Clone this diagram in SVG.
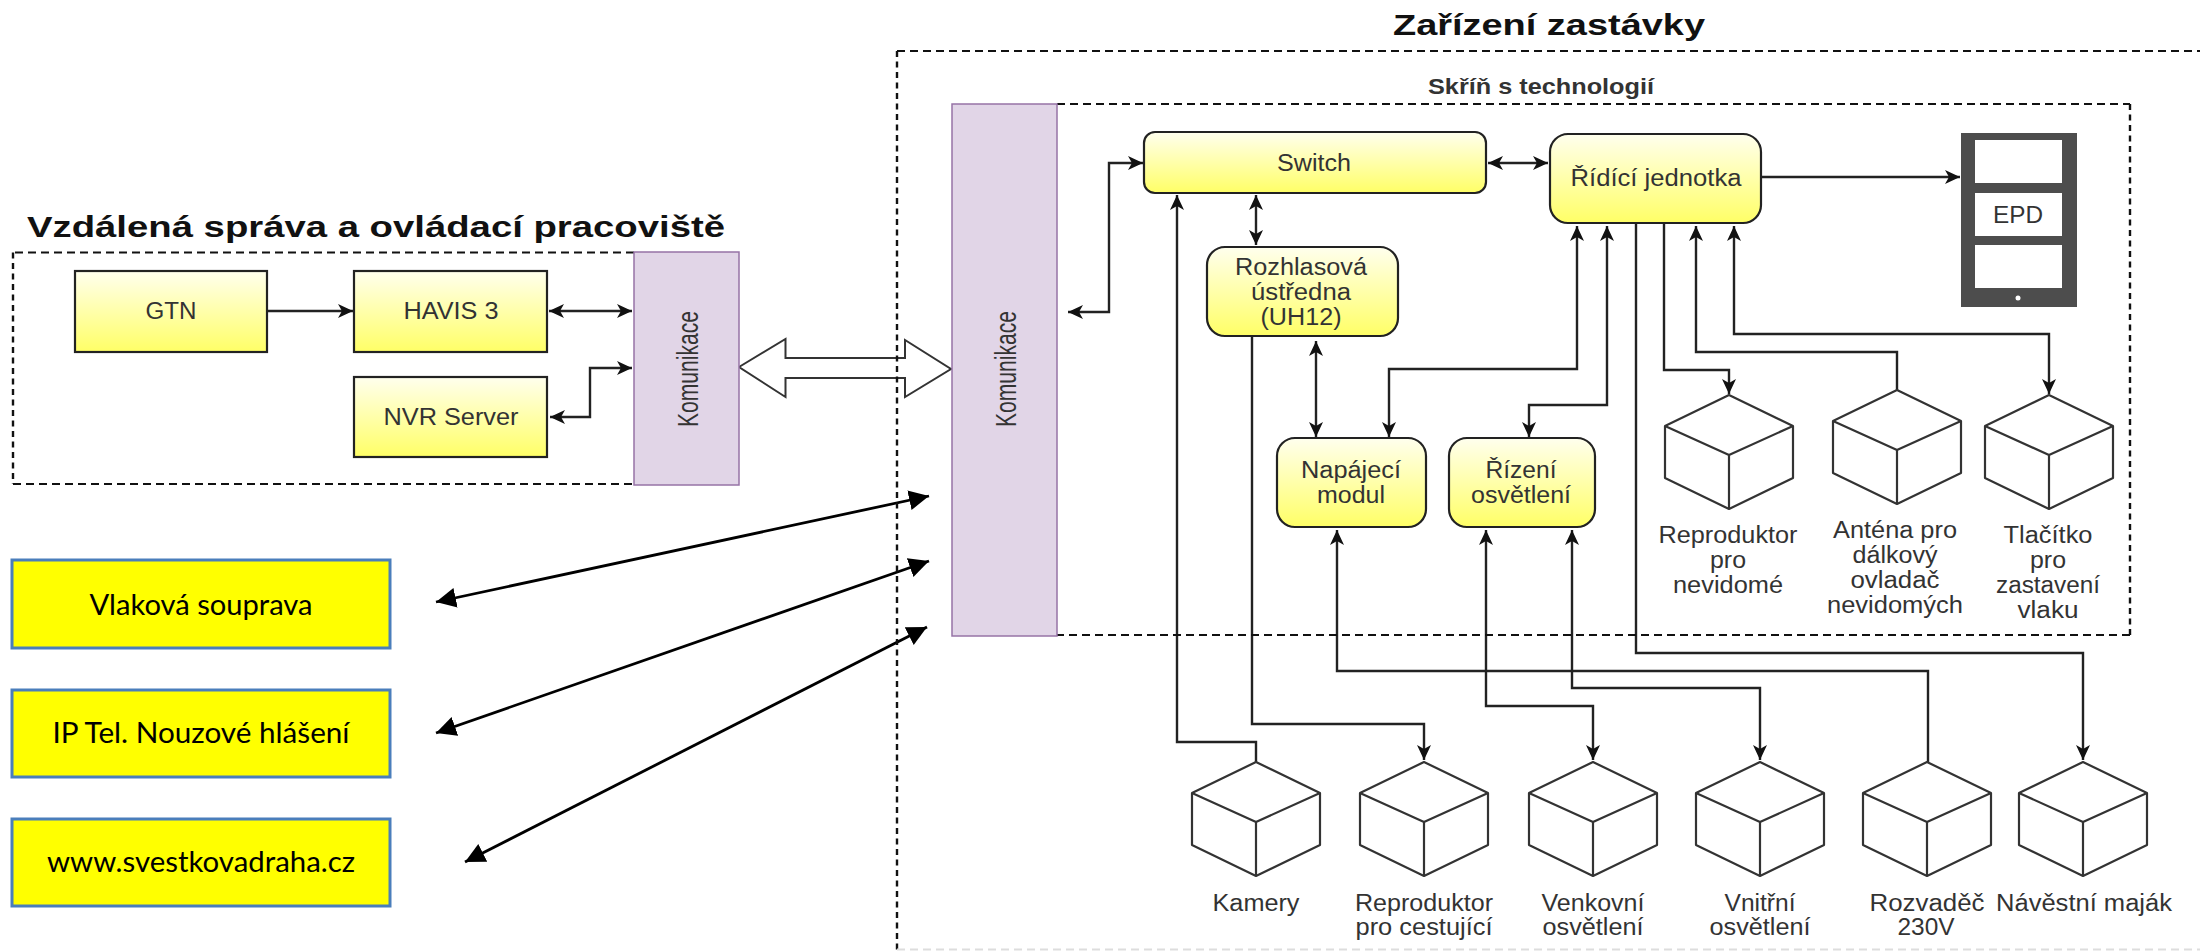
<svg xmlns="http://www.w3.org/2000/svg" xmlns:xlink="http://www.w3.org/1999/xlink" width="2200" height="951" viewBox="0 0 2200 951">
<style>
text{font-family:"Liberation Sans",Arial,sans-serif;fill:#333;font-size:23px;text-anchor:middle}
.title{font-weight:bold;font-size:30px;fill:#111;text-anchor:start}
.sub{font-weight:bold;font-size:22px;fill:#333;text-anchor:start}
.yt{font-family:Lato,"Liberation Sans",sans-serif;font-size:29px;fill:#000}
.rot{font-size:21px}
.frame{fill:none;stroke:#111;stroke-width:2.2;stroke-dasharray:8 5}
.framev{fill:none;stroke:#111;stroke-width:2.4;stroke-dasharray:6 4.500}
.box{fill:url(#yg);stroke:#222;stroke-width:2.2}
.kom{fill:#e1d5e7;stroke:#9673a6;stroke-width:1.5}
.yb{fill:#ffff00;stroke:#4a7ebb;stroke-width:3}
.c{fill:none;stroke:#222;stroke-width:2.4}
.a{marker-end:url(#ah)}
.aa{marker-start:url(#ah);marker-end:url(#ah)}
.d{fill:none;stroke:#000;stroke-width:2.8;marker-start:url(#big);marker-end:url(#big)}
.cube{fill:#fff;stroke:#333;stroke-width:2.2;stroke-linejoin:round}
</style>
<defs>
<linearGradient id="yg" x1="0" y1="0" x2="0" y2="1"><stop offset="0" stop-color="#ffffee"/><stop offset="1" stop-color="#ffff66"/></linearGradient>
<marker id="ah" markerUnits="userSpaceOnUse" markerWidth="16" markerHeight="16" refX="15" refY="8" orient="auto-start-reverse"><path d="M0 1L15 8L0 15L4 8Z" fill="#111"/></marker>
<marker id="big" markerUnits="userSpaceOnUse" markerWidth="22" markerHeight="22" refX="20" refY="10" orient="auto-start-reverse"><path d="M0 0L20 10L0 20Z" fill="#000"/></marker>
<g id="cb"><path class="cube" d="M0 0L64 31V83L0 114L-64 83V31Z"/><path class="cube" d="M-64 31L0 60L64 31M0 60V114" style="fill:none"/></g>
</defs>
<rect width="2200" height="951" fill="#fff"/>
<g id="connectors">
<path d="M739 367L785.5 339V358H905V340L951 369L905 397V378H785.5V397Z" fill="#fff" stroke="#333" stroke-width="2"/>
<path class="c a" d="M267 311H353"/>
<path class="c aa" d="M549 311H632"/>
<path class="c aa" d="M550 417H590V368H632"/>
<path class="c aa" d="M1068 312H1109V163H1143"/>
<path class="c aa" d="M1256 195V245"/>
<path class="c aa" d="M1488 163H1548"/>
<path class="c a" d="M1761 177H1960"/>
<path class="c aa" d="M1316 341V437"/>
<path class="c aa" d="M1389 437V369H1577V226"/>
<path class="c aa" d="M1529 437V405H1607V226"/>
<path class="c a" d="M1664 223V370H1729V394"/>
<path class="c a" d="M1897 390V352H1696V226"/>
<path class="c aa" d="M1734 226V334H2049V394"/>
<path class="c a" d="M1256 762V742H1177V195"/>
<path class="c a" d="M1252 336V724H1424V760"/>
<path class="c a" d="M1636 223V653H2083V760"/>
<path class="c a" d="M1928 762V671H1337V530"/>
<path class="c aa" d="M1486 530V706H1593V760"/>
<path class="c aa" d="M1572 530V688H1760V760"/>
<path class="d" d="M436 602L929 496"/>
<path class="d" d="M436 733L929 561"/>
<path class="d" d="M465 862L927 627"/>
</g>
<g id="frames">
<path class="frame" d="M634 252.500H13M13 484H634"/>
<path class="framev" d="M13 252.500V484"/>
<path class="frame" d="M897 51H2200"/>
<path class="framev" d="M897 51V951"/>
<path class="frame" d="M897 949.500H2200" style="stroke:#ddd"/>
<path class="frame" d="M1057 104H2130M2130 635H1057"/>
<path class="framev" d="M2130 104V635"/>
<text class="title" x="27" y="237" textLength="698" lengthAdjust="spacingAndGlyphs">Vzdálená správa a ovládací pracoviště</text>
<text class="title" x="1393" y="35" textLength="312" lengthAdjust="spacingAndGlyphs">Zařízení zastávky</text>
<text class="sub" x="1428" y="94" textLength="226" lengthAdjust="spacingAndGlyphs">Skříň s technologií</text>
</g>
<g id="gtn"><rect class="box" x="75" y="271" width="192" height="81"/><text x="171" y="319" textLength="51" lengthAdjust="spacingAndGlyphs">GTN</text></g>
<g id="havis"><rect class="box" x="354" y="271" width="193" height="81"/><text x="451" y="319" textLength="95" lengthAdjust="spacingAndGlyphs">HAVIS 3</text></g>
<g id="nvr"><rect class="box" x="354" y="377" width="193" height="80"/><text x="451" y="425" textLength="135" lengthAdjust="spacingAndGlyphs">NVR Server</text></g>
<g id="kom-left"><rect class="kom" x="634" y="252" width="105" height="233"/><text class="rot" transform="translate(698 369) rotate(-90) scale(1 1.4)" textLength="116" lengthAdjust="spacingAndGlyphs">Komunikace</text></g>
<g id="kom-right"><rect class="kom" x="952" y="104" width="105" height="532"/><text class="rot" transform="translate(1016 369) rotate(-90) scale(1 1.4)" textLength="116" lengthAdjust="spacingAndGlyphs">Komunikace</text></g>
<g id="switch"><rect class="box" x="1144" y="132" width="342" height="61" rx="11"/><text x="1314" y="171" textLength="74" lengthAdjust="spacingAndGlyphs">Switch</text></g>
<g id="ridici"><rect class="box" x="1550" y="134" width="211" height="89" rx="18"/><text x="1656" y="186" textLength="171" lengthAdjust="spacingAndGlyphs">Řídící jednotka</text></g>
<g id="rozhlas"><rect class="box" x="1207" y="247" width="191" height="89" rx="18"/><text x="1301" y="275" textLength="132" lengthAdjust="spacingAndGlyphs">Rozhlasová</text><text x="1301" y="300" textLength="100" lengthAdjust="spacingAndGlyphs">ústředna</text><text x="1301" y="325" textLength="81" lengthAdjust="spacingAndGlyphs">(UH12)</text></g>
<g id="napajeci"><rect class="box" x="1277" y="438" width="149" height="89" rx="18"/><text x="1351" y="478" textLength="100" lengthAdjust="spacingAndGlyphs">Napájecí</text><text x="1351" y="503" textLength="68" lengthAdjust="spacingAndGlyphs">modul</text></g>
<g id="rizeni"><rect class="box" x="1449" y="438" width="146" height="89" rx="18"/><text x="1521" y="478" textLength="71" lengthAdjust="spacingAndGlyphs">Řízení</text><text x="1521" y="503" textLength="100" lengthAdjust="spacingAndGlyphs">osvětlení</text></g>
<g id="epd">
<rect x="1961" y="133" width="116" height="174" fill="#4d4d4d"/>
<rect x="1975" y="140" width="87" height="43" fill="#fff"/><rect x="1975" y="193" width="87" height="43" fill="#fff"/><rect x="1975" y="245" width="87" height="43" fill="#fff"/>
<circle cx="2018" cy="298" r="2.500" fill="#fff"/>
<text x="2018" y="223" textLength="50" lengthAdjust="spacingAndGlyphs">EPD</text></g>
<g id="c-repro-nev"><use href="#cb" x="1729" y="395"/><text x="1728" y="543" textLength="139" lengthAdjust="spacingAndGlyphs">Reproduktor</text><text x="1728" y="568" textLength="36" lengthAdjust="spacingAndGlyphs">pro</text><text x="1728" y="593" textLength="110" lengthAdjust="spacingAndGlyphs">nevidomé</text></g>
<g id="c-antena"><use href="#cb" x="1897" y="390"/><text x="1895" y="538" textLength="124" lengthAdjust="spacingAndGlyphs">Anténa pro</text><text x="1895" y="563" textLength="85" lengthAdjust="spacingAndGlyphs">dálkový</text><text x="1895" y="588" textLength="89" lengthAdjust="spacingAndGlyphs">ovladač</text><text x="1895" y="613" textLength="136" lengthAdjust="spacingAndGlyphs">nevidomých</text></g>
<g id="c-tlacitko"><use href="#cb" x="2049" y="395"/><text x="2048" y="543" textLength="89" lengthAdjust="spacingAndGlyphs">Tlačítko</text><text x="2048" y="568" textLength="36" lengthAdjust="spacingAndGlyphs">pro</text><text x="2048" y="593" textLength="104" lengthAdjust="spacingAndGlyphs">zastavení</text><text x="2048" y="618" textLength="61" lengthAdjust="spacingAndGlyphs">vlaku</text></g>
<g id="c-kamery"><use href="#cb" x="1256" y="762"/><text x="1256" y="911" textLength="87" lengthAdjust="spacingAndGlyphs">Kamery</text></g>
<g id="c-repro"><use href="#cb" x="1424" y="762"/><text x="1424" y="911" textLength="138" lengthAdjust="spacingAndGlyphs">Reproduktor</text><text x="1424" y="935" textLength="137" lengthAdjust="spacingAndGlyphs">pro cestující</text></g>
<g id="c-venk"><use href="#cb" x="1593" y="762"/><text x="1593" y="911" textLength="103" lengthAdjust="spacingAndGlyphs">Venkovní</text><text x="1593" y="935" textLength="101" lengthAdjust="spacingAndGlyphs">osvětlení</text></g>
<g id="c-vnitr"><use href="#cb" x="1760" y="762"/><text x="1760" y="911" textLength="71" lengthAdjust="spacingAndGlyphs">Vnitřní</text><text x="1760" y="935" textLength="101" lengthAdjust="spacingAndGlyphs">osvětlení</text></g>
<g id="c-rozv"><use href="#cb" x="1927" y="762"/><text x="1927" y="911" textLength="115" lengthAdjust="spacingAndGlyphs">Rozvaděč</text><text x="1926" y="935" textLength="57" lengthAdjust="spacingAndGlyphs">230V</text></g>
<g id="c-majak"><use href="#cb" x="2083" y="762"/><text x="2084" y="911" textLength="176" lengthAdjust="spacingAndGlyphs">Návěstní maják</text></g>
<g id="vlak"><rect class="yb" x="12" y="560" width="378" height="88"/><text class="yt" x="201" y="615" textLength="223" lengthAdjust="spacingAndGlyphs">Vlaková souprava</text></g>
<g id="iptel"><rect class="yb" x="12" y="690" width="378" height="87"/><text class="yt" x="201" y="743" textLength="297" lengthAdjust="spacingAndGlyphs">IP Tel. Nouzové hlášení</text></g>
<g id="www"><rect class="yb" x="12" y="819" width="378" height="87"/><text class="yt" x="201" y="872" textLength="308" lengthAdjust="spacingAndGlyphs">www.svestkovadraha.cz</text></g>
</svg>
